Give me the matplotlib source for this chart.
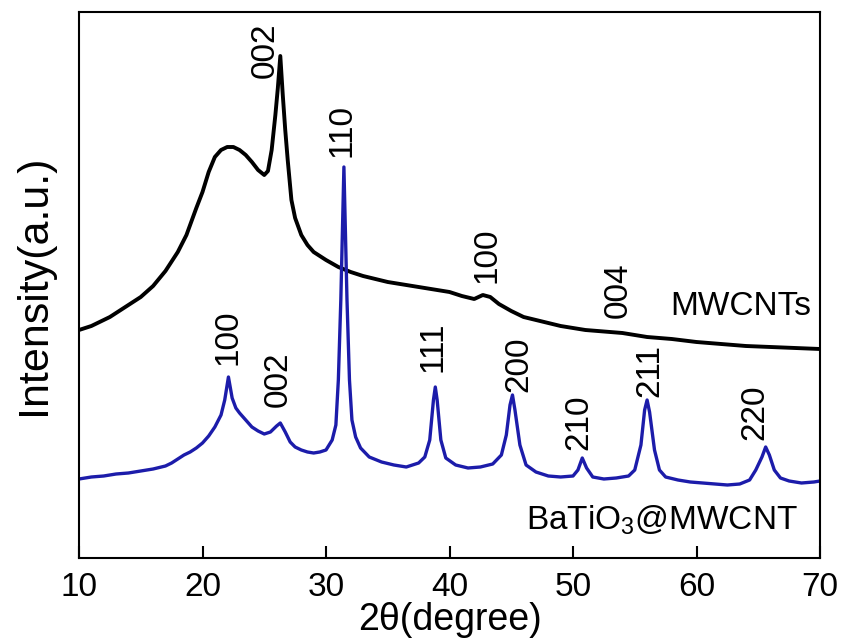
import matplotlib
matplotlib.use("Agg")
import matplotlib.pyplot as plt

plt.rcParams['font.family'] = ['Liberation Sans', 'DejaVu Sans']
plt.rcParams['mathtext.fontset'] = 'custom'
plt.rcParams['mathtext.rm'] = 'Liberation Sans'

# MWCNTs pattern (2theta, intensity a.u.)
mwcnt_x = [10.0, 11.0, 12.5, 14.0, 15.0, 16.0, 17.0, 18.0, 18.7, 19.5, 20.0, 20.5,
           21.0, 21.5, 22.0, 22.5, 23.0, 23.5, 24.0, 24.5, 25.0, 25.3, 25.6, 25.9,
           26.1, 26.3, 26.5, 26.7, 26.9, 27.2, 27.5, 28.0, 28.5, 29.0, 30.0, 31.0,
           32.0, 33.0, 34.0, 35.0, 36.0, 37.0, 38.0, 39.0, 40.0, 41.0, 42.0, 42.7,
           43.3, 44.0, 45.0, 46.0, 47.0, 48.0, 49.0, 50.0, 51.0, 52.0, 53.0, 54.0,
           55.0, 56.0, 57.0, 58.0, 60.0, 62.0, 64.0, 66.0, 68.0, 70.0]
mwcnt_y = [228, 232, 241, 253, 261, 272, 287, 306, 323, 350, 366, 386,
           401, 408, 411, 411, 408, 403, 396, 388, 383, 387, 408, 443,
           470, 502, 463, 428, 398, 358, 340, 323, 313, 306, 298, 291,
           286, 282, 279, 276, 274, 272, 270, 268, 266, 262, 259, 263,
           261, 254, 247, 241, 238, 235, 232, 230, 228, 227, 226, 225,
           223, 221, 220, 219, 216, 214, 212, 211, 210, 209]

# BaTiO3@MWCNT pattern
bt_x = [10.0, 11.0, 12.0, 13.0, 14.0, 15.0, 16.0, 17.0, 17.5, 18.0, 18.5, 19.0,
        19.5, 20.0, 20.5, 21.0, 21.5, 21.8, 22.1, 22.4, 22.7, 23.0, 23.5, 24.0,
        24.5, 25.0, 25.5, 26.0, 26.3, 26.7, 27.1, 27.5, 28.0, 28.5, 29.0, 29.5,
        30.0, 30.5, 30.8, 31.0, 31.2, 31.45, 31.7, 31.9, 32.1, 32.4, 32.8, 33.5,
        34.5, 35.5, 36.5, 37.5, 38.0, 38.4, 38.7, 38.85, 39.0, 39.3, 39.7, 40.5,
        41.5, 42.5, 43.5, 44.2, 44.6, 44.9, 45.1, 45.3, 45.7, 46.2, 47.0, 48.0,
        49.0, 50.0, 50.4, 50.75, 51.1, 51.6, 52.5, 53.5, 54.5, 55.0, 55.5, 55.8,
        56.0, 56.2, 56.6, 57.0, 57.5, 58.5, 59.5, 60.5, 61.5, 62.5, 63.5, 64.3,
        64.8, 65.3, 65.6, 65.9, 66.3, 66.8, 67.5, 68.5, 69.5, 70.0]
bt_y = [79, 81, 82, 84, 85, 87, 89, 92, 95, 99, 103, 106,
        110, 115, 122, 131, 143, 158, 181, 160, 150, 145, 138, 131,
        127, 124, 126, 132, 135, 126, 116, 111, 108, 106, 105, 106,
        108, 118, 133, 178, 258, 391, 258, 178, 138, 121, 110, 101,
        96, 93, 91, 95, 101, 118, 158, 171, 158, 118, 100, 93,
        90, 91, 94, 103, 123, 153, 163, 148, 113, 93, 86, 82,
        81, 82, 88, 100, 90, 81, 79, 80, 82, 88, 113, 148,
        158, 146, 108, 88, 81, 78, 76, 75, 74, 73, 74, 78,
        88, 101, 111, 103, 88, 80, 77, 75, 76, 77]

# peak labels: (text, 2theta, intensity at label base)
mwcnt_peaks = [("002", 25.1, 480), ("100", 43.0, 275), ("004", 53.7, 240)]
bt_peaks = [("100", 22.1, 193), ("002", 26.1, 151), ("110", 31.3, 401),
            ("111", 38.7, 186), ("200", 45.6, 166), ("210", 50.5, 108),
            ("211", 56.2, 161), ("220", 64.7, 118)]

fig = plt.figure(figsize=(8.41, 6.43), dpi=100)
ax = fig.add_axes([79 / 841, 1 - 558 / 643, (820 - 79) / 841, (558 - 12) / 643])

ax.plot(mwcnt_x, mwcnt_y, color='black', lw=2.8, solid_joinstyle='round')
ax.plot(bt_x, bt_y, color='#1c1caa', lw=2.4, solid_joinstyle='round')

for txt, x, y in mwcnt_peaks + bt_peaks:
    ax.text(x, y, txt, rotation=90, ha='center', va='bottom', fontsize=24)

ax.text(69.3, 236, "MWCNTs", ha='right', va='bottom', fontsize=24)
ax.text(68.2, 21, r"BaTiO$\mathregular{_3}$@MWCNT", ha='right', va='bottom', fontsize=24)

ax.set_xlim(10, 70)
ax.set_ylim(0, 546)
ax.set_xticks([10, 20, 30, 40, 50, 60, 70])
ax.set_yticks([])
ax.tick_params(axis='x', direction='in', length=9, width=1.5, labelsize=24, pad=10)
for s in ax.spines.values():
    s.set_linewidth(1.5)

ax.set_xlabel("2θ(degree)", fontsize=27, labelpad=-1)
ax.set_ylabel("Intensity(a.u.)", fontsize=31, labelpad=18)

fig.savefig("out.png", dpi=100)
